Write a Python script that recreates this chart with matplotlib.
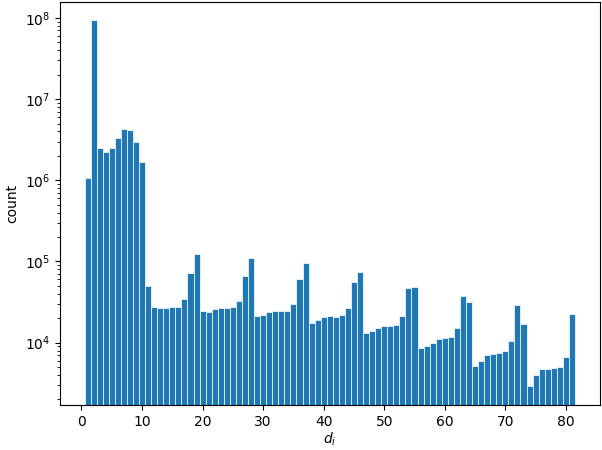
import matplotlib
matplotlib.use("Agg")
import matplotlib.pyplot as plt
import numpy as np

d_values = list(range(1, 82))
counts = [
    1.06e6, 9.3e7, 2.49e6, 2.23e6, 2.5e6, 3.31e6, 4.28e6, 4.11e6, 2.96e6, 1.69e6,
    5.05e4, 2.76e4, 2.70e4, 2.70e4, 2.73e4, 2.78e4, 3.43e4, 7.18e4, 1.22e5, 2.46e4,
    2.37e4, 2.58e4, 2.66e4, 2.66e4, 2.73e4, 3.27e4, 6.6e4, 1.1e5, 2.13e4, 2.18e4,
    2.37e4, 2.44e4, 2.44e4, 2.46e4, 3.03e4, 6.05e4, 9.5e4, 1.75e4, 1.91e4, 2.06e4,
    2.10e4, 2.07e4, 2.18e4, 2.66e4, 5.56e4, 7.38e4, 1.31e4, 1.39e4, 1.52e4, 1.59e4,
    1.60e4, 1.67e4, 2.11e4, 4.68e4, 4.91e4, 8.5e3, 9.0e3, 1.0e4, 1.1e4, 1.13e4,
    1.17e4, 1.52e4, 3.77e4, 3.18e4, 5.2e3, 5.94e3, 6.98e3, 7.19e3, 7.46e3, 7.82e3,
    1.06e4, 2.94e4, 1.71e4, 2.93e3, 3.96e3, 4.7e3, 4.7e3, 4.88e3, 5.06e3, 6.71e3,
    2.24e4,
]
bins = np.arange(0.5, 82.5, 1.0)

fig = plt.figure(figsize=(6.02, 4.5), dpi=100)
ax = fig.add_axes([60/602, 45/450, 539.5/602, 403/450])
ax.hist(d_values, bins=bins, weights=counts, color="#1f77b4",
        edgecolor="white", linewidth=0.5, log=True)
ax.set_ylim(1706, 1.57e8)
ax.set_xlim(-3.55, 85.55)
ax.set_xlabel("$d_i$", labelpad=1)
ax.set_ylabel("count")
fig.savefig("out.png", dpi=100)
